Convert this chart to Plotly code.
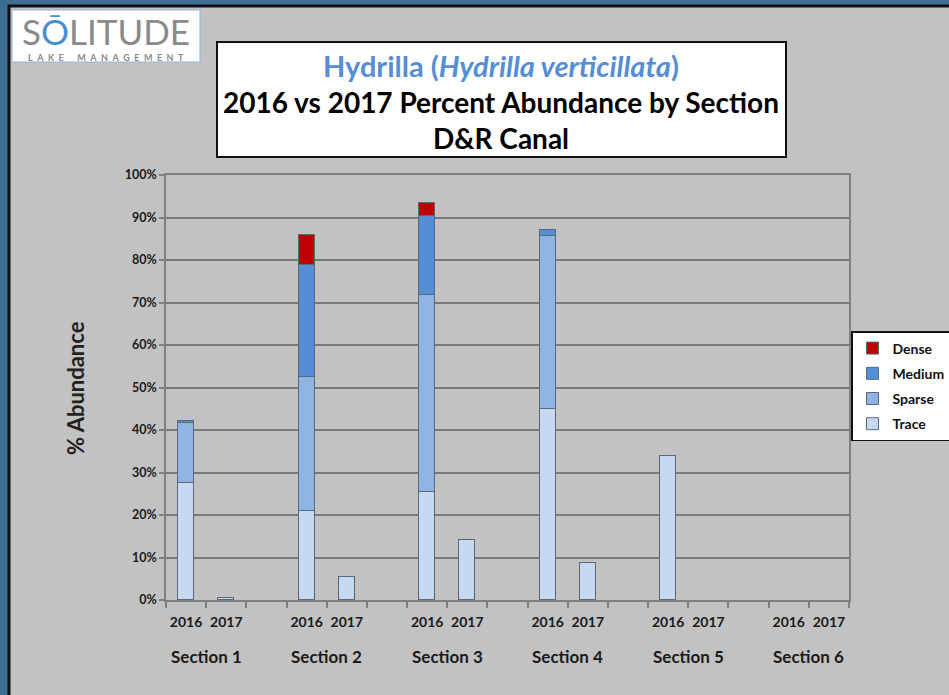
import plotly.graph_objects as go

sections = ["Section 1", "Section 2", "Section 3", "Section 4", "Section 5", "Section 6"]
years = ["2016", "2017"]
levels = ["Trace", "Sparse", "Medium", "Dense"]
colors = {"Trace": "#c6d9f1", "Sparse": "#8eb4e3", "Medium": "#558ed5", "Dense": "#c00000"}

# values per section: [2016, 2017]
trace_vals = [[27.6, 0.5], [21.0, 5.5], [25.5, 14.1], [45.0, 8.7], [33.8, 0.0], [0.0, 0.0]]
sparse_vals = [[14.0, 0.0], [31.5, 0.0], [46.3, 0.0], [40.6, 0.0], [0.0, 0.0], [0.0, 0.0]]
medium_vals = [[0.5, 0.0], [26.3, 0.0], [18.6, 0.0], [1.5, 0.0], [0.0, 0.0], [0.0, 0.0]]
dense_vals = [[0.0, 0.0], [7.1, 0.0], [2.9, 0.0], [0.0, 0.0], [0.0, 0.0], [0.0, 0.0]]
y_ticks = list(range(0, 101, 10))

data = {"Trace": trace_vals, "Sparse": sparse_vals, "Medium": medium_vals, "Dense": dense_vals}

W, H = 949, 695
L, R, T, B = 166, 849, 175, 600


def px(x):
    return (x - L) / (R - L)


def py(y):
    return (B - y) / (B - T)


FONT = "Lato"

xpos = []
xlab = []
for i, s in enumerate(sections):
    for j, yr in enumerate(years):
        xpos.append(i * 3 + j)
        xlab.append(yr)

fig = go.Figure()
for k, lvl in enumerate(levels):
    vals = [v if v > 0 else None for pair in data[lvl] for v in pair]
    fig.add_trace(go.Bar(
        x=xpos, y=vals, name=lvl, width=0.4, legendgroup=lvl,
        legendrank=len(levels) - k,
        marker=dict(color=colors[lvl], line=dict(color="#5a6878", width=1)),
    ))

shapes = [
    # grey panel with black border
    dict(type="rect", xref="paper", yref="paper", x0=px(9), x1=px(960), y0=py(6), y1=py(705),
         fillcolor="#c2c2c2", line=dict(color="#111111", width=3), layer="below"),
    # title box
    dict(type="rect", xref="paper", yref="paper", x0=px(217), x1=px(786), y0=py(42), y1=py(157),
         fillcolor="white", line=dict(color="#111111", width=2), layer="below"),
    # logo box
    dict(type="rect", xref="paper", yref="paper", x0=px(12), x1=px(200), y0=py(10), y1=py(62),
         fillcolor="white", line=dict(color="#8fb4dd", width=1), layer="below"),
]


def ann(text, x, y, size, color, **kw):
    d = dict(text=text, x=x, y=y, xref="paper", yref="paper", xanchor="center", yanchor="middle",
             showarrow=False, font=dict(family=FONT, size=size, color=color))
    d.update(kw)
    return d


sp = "\u2002"
lake = (sp * 3).join(sp.join(w) for w in ["LAKE", "MANAGEMENT"])

annotations = [
    ann("<b>Hydrilla (<i>Hydrilla verticillata</i>)</b>", px(501), py(65), 29, "#558ed5"),
    ann("<b>2016 vs 2017 Percent Abundance by Section</b>", px(501), py(102), 28, "black"),
    ann("<b>D&R Canal</b>", px(501), py(138), 28, "black"),
    ann("<b>% Abundance</b>", px(75), py(388), 22, "#222222", textangle=-90),
    ann("S<span style='color:#4a8fd0'>Ō</span>LITUDE", px(106), py(31), 35, "#8a8a8a"),
    ann(f"<b>{lake}</b>", px(106), py(57.5), 9, "#8a8a8a"),
]
for i, s in enumerate(sections):
    annotations.append(dict(text=f"<b>{s}</b>", x=i * 3 + 0.5, xref="x", y=py(656), yref="paper",
                            xanchor="center", yanchor="middle",
                            showarrow=False, font=dict(family=FONT, size=17, color="#1a1a1a")))

fig.update_layout(
    width=W, height=H,
    margin=dict(l=L, r=W - R, t=T, b=H - B, autoexpand=False),
    paper_bgcolor="#3b6f92",
    plot_bgcolor="#d9d9d9",
    barmode="stack",
    bargap=0,
    shapes=shapes,
    annotations=annotations,
    legend=dict(traceorder="grouped", xref="container", yref="container",
                x=851 / W, y=1 - 331 / H, xanchor="left", yanchor="top",
                bgcolor="white", bordercolor="#111111", borderwidth=1.5,
                font=dict(family=FONT, size=14, color="#111111", weight="bold"), itemwidth=30,
                tracegroupgap=4),
    xaxis=dict(range=[-0.5, 16.5], tickvals=xpos, ticktext=xlab,
               ticks="", showgrid=False, zeroline=False, showline=True, linecolor="#808080", linewidth=1.5,
               mirror=True, ticklabelstandoff=8,
               tickfont=dict(family=FONT, size=14, color="#1a1a1a", weight="bold"),
               minor=dict(tickvals=[k - 0.5 for k in range(18)], ticks="outside", ticklen=6,
                          tickcolor="#808080", tickwidth=1.5, showgrid=False)),
    yaxis=dict(range=[0, 100], tickvals=y_ticks, ticktext=[f"{v}%" for v in y_ticks],
               ticks="outside", ticklen=5, tickcolor="#808080", tickwidth=1.5,
               showgrid=True, gridcolor="#7a7a7a", gridwidth=1.5, zeroline=False,
               showline=True, linecolor="#808080", linewidth=1.5, mirror=True,
               tickfont=dict(family=FONT, size=12.5, color="#1a1a1a", weight="bold")),
    showlegend=True,
)

fig.write_html("out.html", config={"displayModeBar": False},
               post_script="document.body.style.margin='0';document.body.style.overflow='hidden';")
